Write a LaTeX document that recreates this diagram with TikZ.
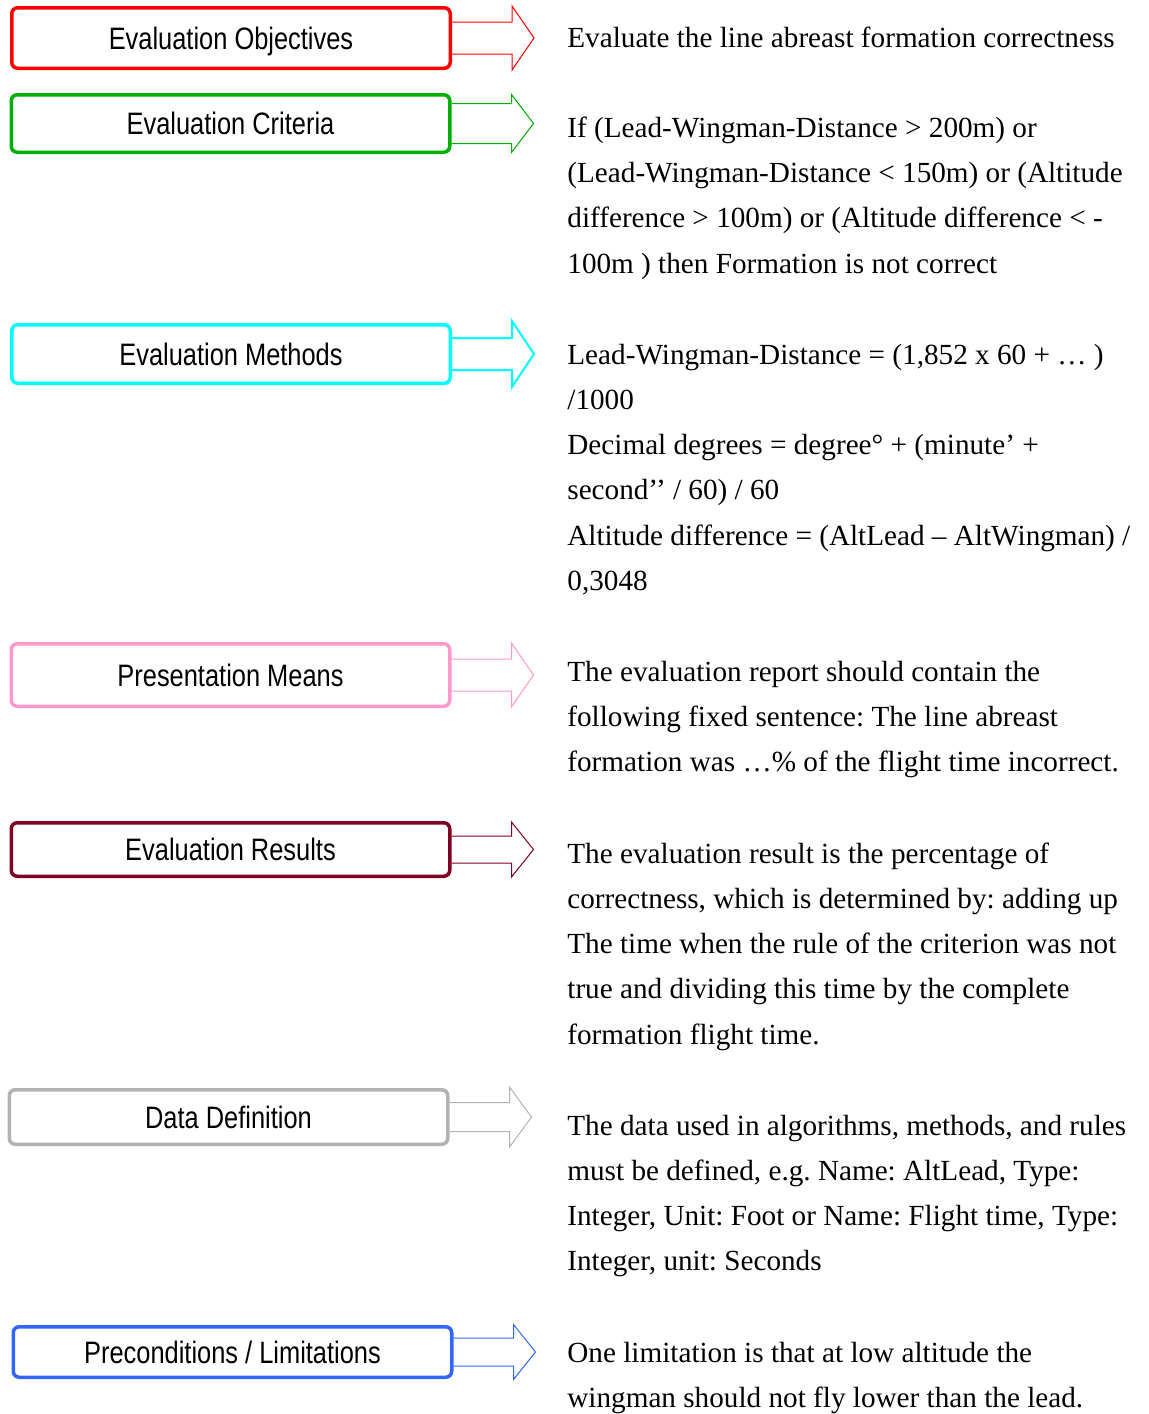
\documentclass[tikz,border=0pt]{standalone}
\usepackage{fontspec}
\setmainfont{Liberation Serif}
\newfontfamily\labelfont[FakeStretch=0.82]{Liberation Sans}

\definecolor{objred}{HTML}{FF0000}
\definecolor{critgreen}{HTML}{00B000}
\definecolor{methcyan}{HTML}{00FFFF}
\definecolor{prespink}{HTML}{FF99CC}
\definecolor{resmaroon}{HTML}{800020}
\definecolor{datagray}{HTML}{B2B2B2}
\definecolor{preblue}{HTML}{3366FF}

\frenchspacing
\begin{document}
\begin{tikzpicture}[x=0.5pt, y=-0.5pt,
    stagebox/.style={rectangle, rounded corners=3pt, line width=1.75pt, fill=white,
        minimum width=219.25pt, inner sep=0pt, text height=11.1pt, text depth=0pt,
        font=\labelfont\fontsize{15.5}{18}\selectfont},
    desc/.style={anchor=base west, inner sep=0pt, align=left,
        font=\fontsize{14.6}{22.65}\selectfont}
]
\useasboundingbox (0,0) rectangle (1149,1414);

% left column: stages
\node[stagebox, draw=objred,    minimum height=30.25pt] (obj)  at (231,38)     {Evaluation Objectives};
\node[stagebox, draw=critgreen, minimum height=28.75pt] (crit) at (230.5,123.5) {Evaluation Criteria};
\node[stagebox, draw=methcyan,  minimum height=29.25pt] (meth) at (231,354)    {Evaluation Methods};
\node[stagebox, draw=prespink,  minimum height=31.25pt] (pres) at (230.5,675)  {Presentation Means};
\node[stagebox, draw=resmaroon, minimum height=26.75pt] (res)  at (230.5,849.5) {Evaluation Results};
\node[stagebox, draw=datagray,  minimum height=27.25pt] (data) at (228.5,1117) {Data Definition};
\node[stagebox, draw=preblue,   minimum height=25.25pt] (pre)  at (232.5,1352) {Preconditions / Limitations};

% block arrows
\foreach \b/\c/\s/\h/\w in {obj/objred/16/32/0.5, crit/critgreen/20/29/0.5,
    meth/methcyan/16/33/1, pres/prespink/16/32/0.5, res/resmaroon/13.5/27.5/0.5,
    data/datagray/14.5/30/0.5, pre/preblue/14/27.5/0.5}
  \draw[draw=\c, line width=\w pt, line join=miter]
    (\b.east) ++(0,-\s) -- ++(60,0) -- ++(0,\s-\h) -- ++(22,\h)
    -- ++(-22,\h) -- ++(0,\s-\h) -- ++(-60,0);

% right column: descriptions (anchored at the baseline of the last line)
\node[desc] (objtxt) at (567,47) {Evaluate the line abreast formation correctness};
\node[desc] (crittxt) at (567,273) {If (Lead-Wingman-Distance > 200m) or\\
  (Lead-Wingman-Distance < 150m) or (Altitude\\
  difference > 100m) or (Altitude difference < -\\
  100m ) then Formation is not correct};
\node[desc] (methtxt) at (567,590.5) {Lead-Wingman-Distance = (1,852 x 60 + … )\\
  /1000\\
  Decimal degrees = degree° + (minute’ +\\
  second’’ / 60) / 60\\
  Altitude difference = (AltLead – AltWingman) /\\
  0,3048};
\node[desc] (prestxt) at (567,771.6) {The evaluation report should contain the\\
  following fixed sentence: The line abreast\\
  formation was …\% of the flight time incorrect.};
\node[desc] (restxt) at (567,1044.2) {The evaluation result is the percentage of\\
  correctness, which is determined by: adding up\\
  The time when the rule of the criterion was not\\
  true and dividing this time by the complete\\
  formation flight time.};
\node[desc] (datatxt) at (567,1270.9) {The data used in algorithms, methods, and rules\\
  must be defined, e.g. Name: AltLead, Type:\\
  Integer, Unit: Foot or Name: Flight time, Type:\\
  Integer, unit: Seconds};
\node[desc] (pretxt) at (567,1407.3) {One limitation is that at low altitude the\\
  wingman should not fly lower than the lead.};
\end{tikzpicture}
\end{document}
